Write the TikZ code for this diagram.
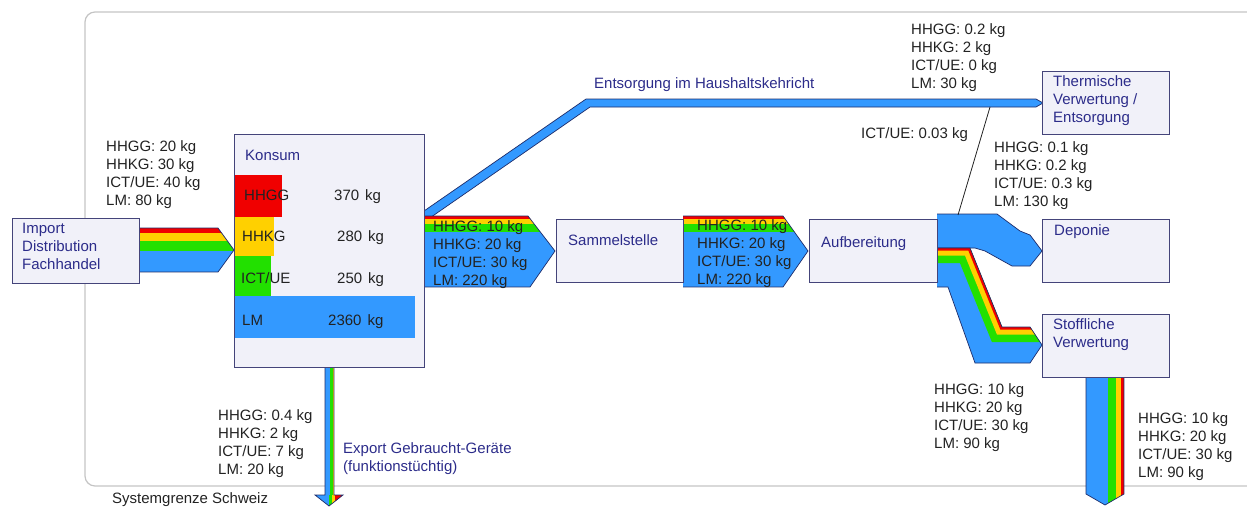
\documentclass[tikz,border=0pt]{standalone}
\usepackage{fontspec}
\setmainfont{Liberation Sans}
\definecolor{flowred}{HTML}{F00000}
\definecolor{flowyellow}{HTML}{FFD000}
\definecolor{flowgreen}{HTML}{22E000}
\definecolor{flowblue}{HTML}{3399FF}
\definecolor{flowedge}{HTML}{1E2C6A}
\definecolor{boxline}{HTML}{44447A}
\definecolor{boxfill}{HTML}{F1F1F9}
\definecolor{navytext}{HTML}{2C2C8A}
\definecolor{labeltext}{HTML}{222222}
\definecolor{sysline}{HTML}{C4C4C4}
\begin{document}
\begin{tikzpicture}[x=1pt,y=-1pt,
  every node/.style={inner sep=0pt},
  % multi-line nodes are placed by the baseline of their last line
  lbl/.style={font=\fontsize{15}{18}\selectfont, text=labeltext, anchor=base west, align=left},
  title/.style={font=\fontsize{15}{18}\selectfont, text=navytext, anchor=base west, align=left},
  proc/.style={draw=boxline, fill=boxfill, line width=1.2pt, anchor=north west, rectangle},
  outline/.style={draw=flowedge, line width=0.7pt, line join=miter},
]
\useasboundingbox (0,0) rectangle (1247,506);

% system boundary
\draw[sysline, line width=1.2pt, rounded corners=10pt] (1247,12) -- (85,12) -- (85,486) -- (1247,486);
\node[lbl] (sysname) at (112,503) {Systemgrenze Schweiz};

% household waste band to thermal treatment
\fill[flowblue] (424,211) -- (586,99) -- (1036,99) -- (1043,103) -- (1036,107) -- (590,107) -- (424,222) -- cycle;
\draw[outline] (424,211) -- (586,99) -- (1036,99) -- (1043,103) -- (1036,107) -- (590,107) -- (424,222);

% import flow
\begin{scope}
  \clip (139,228) -- (218,228) -- (234,250) -- (218,272) -- (139,272) -- cycle;
  \fill[flowred]    (130,228)   rectangle (240,233.2);
  \fill[flowyellow] (130,233.2) rectangle (240,241);
  \fill[flowgreen]  (130,241)   rectangle (240,251.4);
  \fill[flowblue]   (130,251.4) rectangle (240,272);
\end{scope}
\draw[outline] (139,228) -- (218,228) -- (234,250) -- (218,272) -- (139,272);

% Konsum -> Sammelstelle
\begin{scope}
  \clip (424,216) -- (528,216) -- (555,251) -- (530,287) -- (424,287) -- cycle;
  \fill[flowred]    (420,216)   rectangle (560,218.6);
  \fill[flowyellow] (420,218.6) rectangle (560,223.8);
  \fill[flowgreen]  (420,223.8) rectangle (560,231.6);
  \fill[flowblue]   (420,231.6) rectangle (560,287);
\end{scope}
\draw[outline] (424,216) -- (528,216) -- (555,251) -- (530,287) -- (424,287);

% Sammelstelle -> Aufbereitung
\begin{scope}
  \clip (683,216) -- (783,216) -- (808,251) -- (783,287) -- (683,287) -- cycle;
  \fill[flowred]    (680,216)   rectangle (810,218.6);
  \fill[flowyellow] (680,218.6) rectangle (810,223.8);
  \fill[flowgreen]  (680,223.8) rectangle (810,231.6);
  \fill[flowblue]   (680,231.6) rectangle (810,287);
\end{scope}
\draw[outline] (683,216) -- (783,216) -- (808,251) -- (783,287) -- (683,287);

% Aufbereitung -> Deponie
\fill[flowblue] (937,214) -- (997,214) -- (1020,231) -- (1030,235) -- (1042,251) -- (1030,266) -- (1012,266) -- (985,251) -- (975,248) -- (937,248) -- cycle;
\draw[outline] (937,214) -- (997,214) -- (1020,231) -- (1030,235) -- (1042,251) -- (1030,266) -- (1012,266) -- (985,251) -- (975,248) -- (937,248);

% Aufbereitung -> Stoffliche Verwertung
\begin{scope}
  \clip (937,248) -- (970,248) -- (1002,327) -- (1030,327) -- (1042,345) -- (1030,363) -- (975,363) -- (948,287) -- (937,287) -- cycle;
  \fill[flowblue] (930,240) rectangle (1050,370);
  \draw[flowgreen,  line width=30pt, line join=miter] (925,248) -- (970,248) -- (1002,327) -- (1070,327);
  \draw[flowyellow, line width=15pt, line join=miter] (925,248) -- (970,248) -- (1002,327) -- (1070,327);
  \draw[flowred,    line width=5pt,  line join=miter] (925,248) -- (970,248) -- (1002,327) -- (1070,327);
\end{scope}
\draw[outline] (937,248) -- (970,248) -- (1002,327) -- (1030,327) -- (1042,345) -- (1030,363) -- (975,363) -- (948,287) -- (937,287);

% Stoffliche Verwertung -> out
\begin{scope}
  \clip (1086,377) -- (1124,377) -- (1124,494) -- (1105,505) -- (1086,494) -- cycle;
  \fill[flowblue]   (1086,370) rectangle (1108,510);
  \fill[flowgreen]  (1108,370) rectangle (1116,510);
  \fill[flowyellow] (1116,370) rectangle (1121,510);
  \fill[flowred]    (1121,370) rectangle (1124,510);
\end{scope}
\draw[outline] (1086,377) -- (1086,494) -- (1105,505) -- (1124,494) -- (1124,377);

% export of used appliances
\begin{scope}
  \clip (325,367) -- (334,367) -- (334,495) -- (343,495) -- (329,506) -- (315,495) -- (325,495) -- cycle;
  \fill[flowblue]   (325,367) rectangle (330,495);
  \fill[flowgreen]  (330,367) rectangle (333,495);
  \fill[flowyellow] (333,367) rectangle (333.6,495);
  \fill[flowred]    (333.6,367) rectangle (334,495);
  \fill[flowblue]   (315,495) rectangle (329,507);
  \fill[flowgreen]  (329,495) rectangle (332,507);
  \fill[flowyellow] (332,495) rectangle (335,507);
  \fill[flowred]    (335,495) rectangle (343,507);
\end{scope}
\draw[outline] (325,367) -- (325,495) -- (315,495) -- (329,506) -- (343,495) -- (334,495) -- (334,367);

% ICT/UE share diverted to household waste
\coordinate (split) at (958,215);
\coordinate (tap) at (990,107);
\draw[labeltext, line width=0.8pt] (split) -- (tap);

% processes
\node[proc, minimum width=127pt, minimum height=65pt] (import) at (12,218) {};
\node[proc, minimum width=190pt, minimum height=233pt] (konsum) at (234,134) {};
\node[proc, minimum width=127pt, minimum height=63pt] (sammel) at (556,219) {};
\node[proc, minimum width=128pt, minimum height=63pt] (aufb) at (809,219) {};
\node[proc, minimum width=127pt, minimum height=63pt] (deponie) at (1042,219) {};
\node[proc, minimum width=127pt, minimum height=63pt] (stoff) at (1042,314) {};
\node[proc, minimum width=127pt, minimum height=63pt] (therm) at (1042,71) {};

% stocks inside Konsum
\fill[flowred]    (234.6,175) rectangle (282,217);
\fill[flowyellow] (234.6,217) rectangle (274,256);
\fill[flowgreen]  (234.6,256) rectangle (271,296);
\fill[flowblue]   (234.6,296) rectangle (415,338);

% process titles
\node[title] (importT) at (22,269) {Import\\Distribution\\Fachhandel};
\node[title] (konsumT) at (245,160) {Konsum};
\node[title] (sammelT) at (568,245) {Sammelstelle};
\node[title] (aufbT) at (821,247) {Aufbereitung};
\node[title] (deponieT) at (1054,235) {Deponie};
\node[title] (stoffT) at (1053,347) {Stoffliche\\Verwertung};
\node[title] (thermT) at (1053,122) {Thermische\\Verwertung /\\Entsorgung};
\node[title] (kehrichtT) at (594,88) {Entsorgung im Haushaltskehricht};
\node[title] (exportT) at (343,471) {Export Gebraucht-Ger\"ate\\(funktionst\"uchtig)};

% stock values
\node[lbl] (sHHGG) at (244,200) {HHGG};
\node[lbl] (vHHGG) at (334,200) {370\hspace{6pt}kg};
\node[lbl] (sHHKG) at (242,241) {HHKG};
\node[lbl] (vHHKG) at (337,241) {280\hspace{6pt}kg};
\node[lbl] (sICT) at (241,283) {ICT/UE};
\node[lbl] (vICT) at (337,283) {250\hspace{6pt}kg};
\node[lbl] (sLM) at (242,325) {LM};
\node[lbl] (vLM) at (328,325) {2360\hspace{6pt}kg};

% flow quantities
\node[lbl] (qImport) at (106,205) {HHGG: 20 kg\\HHKG: 30 kg\\ICT/UE: 40 kg\\LM: 80 kg};
\node[lbl] (qKonsum) at (433,285) {HHGG: 10 kg\\HHKG: 20 kg\\ICT/UE: 30 kg\\LM: 220 kg};
\node[lbl] (qSammel) at (697,284) {HHGG: 10 kg\\HHKG: 20 kg\\ICT/UE: 30 kg\\LM: 220 kg};
\node[lbl] (qKehricht) at (911,88) {HHGG: 0.2 kg\\HHKG: 2 kg\\ICT/UE: 0 kg\\LM: 30 kg};
\node[lbl] (qTap) at (861,138) {ICT/UE: 0.03 kg};
\node[lbl] (qDeponie) at (994,206) {HHGG: 0.1 kg\\HHKG: 0.2 kg\\ICT/UE: 0.3 kg\\LM: 130 kg};
\node[lbl] (qStoff) at (934,448) {HHGG: 10 kg\\HHKG: 20 kg\\ICT/UE: 30 kg\\LM: 90 kg};
\node[lbl] (qOut) at (1138,477) {HHGG: 10 kg\\HHKG: 20 kg\\ICT/UE: 30 kg\\LM: 90 kg};
\node[lbl] (qExport) at (218,474) {HHGG: 0.4 kg\\HHKG: 2 kg\\ICT/UE: 7 kg\\LM: 20 kg};
\end{tikzpicture}
\end{document}
